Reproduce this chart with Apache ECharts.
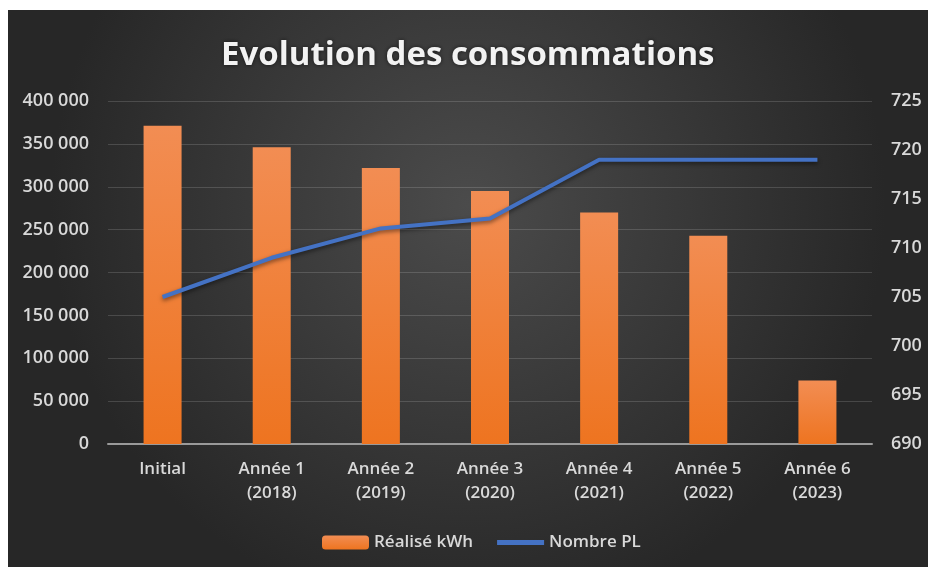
<!DOCTYPE html>
<html>
<head>
<meta charset="utf-8">
<script src="https://cdn.jsdelivr.net/npm/echarts@6/dist/echarts.min.js"></script>
<style>
  html, body { margin: 0; padding: 0; background: #fff; }
  #chart { position: absolute; left: 8px; top: 10px; width: 920px; height: 557px; }
</style>
</head>
<body>
<div id="chart"></div>
<script>
// catégories et valeurs
var categories = ["Initial", "Année 1\n(2018)", "Année 2\n(2019)", "Année 3\n(2020)", "Année 4\n(2021)", "Année 5\n(2022)", "Année 6\n(2023)"];
var realiseKwh = [371000, 346000, 322000, 295000, 270000, 243000, 74000];
var nombrePL = [705, 709, 712, 713, 719, 719, 719];

var chart = echarts.init(document.getElementById("chart"));

// format "400 000"
function fmt(v) {
  return String(v).replace(/\B(?=(\d{3})+(?!\d))/g, " ");
}

var labelFont = "'Open Sans', sans-serif";

chart.setOption({
  backgroundColor: {
    type: "radial", x: 0.5, y: 0.35, r: 0.75,
    colorStops: [
      { offset: 0, color: "#4b4b4b" },
      { offset: 1, color: "#272727" }
    ]
  },
  title: {
    text: "Evolution des consommations",
    left: 208,
    top: 24,
    textStyle: {
      fontFamily: labelFont,
      fontSize: 33,
      fontWeight: "bold",
      color: "#f2f2f2",
      textShadowColor: "rgba(0,0,0,0.6)",
      textShadowBlur: 4
    }
  },
  legend: {
    top: 519,
    left: 309,
    itemWidth: 47,
    itemHeight: 14,
    itemGap: 24,
    textStyle: { fontFamily: labelFont, fontSize: 17, fontWeight: 600, color: "#d9d9d9" },
    data: [
      { name: "Réalisé kWh" },
      { name: "Nombre PL", icon: "path://M0,0 L48,0 L48,5 L0,5 Z" }
    ]
  },
  grid: { left: 100, right: 56, top: 91, bottom: 123 },
  xAxis: {
    type: "category",
    data: categories,
    axisTick: { show: false },
    axisLine: { lineStyle: { color: "#9a9a9a", width: 2 } },
    axisLabel: {
      fontFamily: labelFont, fontSize: 17, fontWeight: 600, color: "#d9d9d9",
      lineHeight: 24, margin: 13, interval: 0
    }
  },
  yAxis: [
    {
      type: "value",
      min: 0, max: 400000, interval: 50000,
      axisLabel: {
        fontFamily: labelFont, fontSize: 18, fontWeight: 600, color: "#d9d9d9",
        margin: 19, formatter: fmt
      },
      splitLine: { lineStyle: { color: "rgba(255,255,255,0.15)", width: 1 } }
    },
    {
      type: "value",
      min: 690, max: 725, interval: 5,
      axisLabel: {
        fontFamily: labelFont, fontSize: 18, fontWeight: 600, color: "#d9d9d9", margin: 19
      },
      splitLine: { show: false }
    }
  ],
  series: [
    {
      name: "Réalisé kWh",
      type: "bar",
      data: realiseKwh,
      barWidth: 38,
      itemStyle: {
        color: {
          type: "linear", x: 0, y: 0, x2: 0, y2: 1,
          colorStops: [
            { offset: 0, color: "#f28d53" },
            { offset: 1, color: "#ee7420" }
          ]
        },
        shadowColor: "rgba(0,0,0,0.5)",
        shadowBlur: 4
      }
    },
    {
      name: "Nombre PL",
      type: "line",
      yAxisIndex: 1,
      data: nombrePL,
      symbol: "none",
      lineStyle: {
        color: "#4472c4", width: 4,
        shadowColor: "rgba(0,0,0,0.5)", shadowBlur: 4, shadowOffsetY: 2
      },
      itemStyle: { color: "#4472c4" }
    }
  ]
});
</script>
</body>
</html>
